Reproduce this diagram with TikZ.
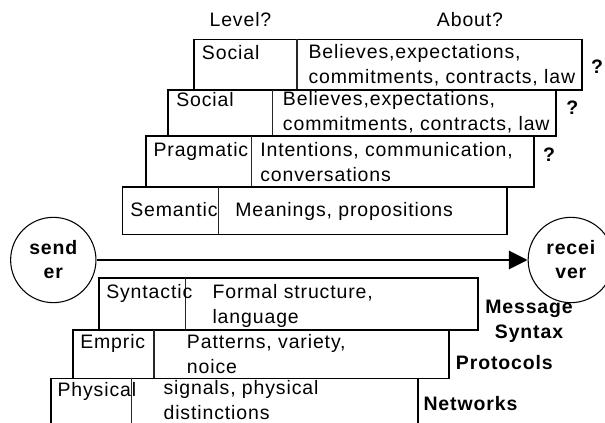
\documentclass[tikz,border=0pt]{standalone}
\usepackage{fontspec}
\setmainfont{Liberation Sans}[LetterSpace=4.5]
\usetikzlibrary{arrows.meta, fit}

\begin{document}
\begin{tikzpicture}[x=0.75pt, y=-0.75pt]
\tikzstyle{layer} = [draw, line width=1.2pt, inner sep=0pt]
\tikzstyle{divider} = [draw=black!85, line width=0.8pt]
\tikzstyle{txt} = [inner sep=0pt, anchor=base west, align=left, font=\fontsize{14.6}{18.4}\selectfont]
\tikzstyle{tag} = [txt, font=\fontsize{14.6}{18.4}\selectfont\bfseries]
\tikzstyle{party} = [circle, draw, line width=0.8pt, minimum size=64pt, inner sep=0pt, align=center, font=\fontsize{14.6}{18}\selectfont\bfseries]

\useasboundingbox (0,0) rectangle (605,423);
\clip (0,0) rectangle (605,423);

% Layers with their dividers
\foreach \name/\xa/\ya/\xb/\yb/\xd in {socA/194/39.5/581.7/90/297, socB/168/90/555.7/136/272.7, prag/146/136/534/187/251.7, sem/122.3/187/506.7/234.5/218.7, syn/98.7/278.3/478/330/185.7, emp/72.7/330/449/378.3/154, phys/50.7/378.3/417.7/440/131.7} {
    \node (\name) [layer, fit={(\xa,\ya) (\xb,\yb)}] {};
    \draw[divider] (\xd,\ya) -- (\xd,\yb);
}

\node (level) [txt] at (209.3,26.7) {Level?};
\node (about) [txt] at (436.7,26.7) {About?};

% two-line texts sit on the baseline of their last line
\node (socAlvl) [txt] at (201.7,59.3) {Social};
\node (socAtxt) [txt] at (308.3,83.3) {Believes,expectations,\\commitments, contracts, law};
\node (socBlvl) [txt] at (176,106.7) {Social};
\node (socBtxt) [txt] at (282.7,130.5) {Believes,expectations,\\commitments, contracts, law};
\node (praglvl) [txt] at (153.3,156.7) {Pragmatic};
\node (pragtxt) [txt] at (260,181.5) {Intentions, communication,\\conversations};
\node (semlvl) [txt] at (130,216.7) {Semantic};
\node (semtxt) [txt] at (235,216.7) {Meanings, propositions};
\node (synlvl) [txt] at (106,298) {Syntactic};
\node (syntxt) [txt] at (212.3,323) {Formal structure,\\language};
\node (emplvl) [txt] at (80,348) {Empric};
\node (emptxt) [txt] at (186.7,373) {Patterns, variety,\\noice};
\node (physlvl) [txt] at (57.3,396.3) {Physical};
\node (phystxt) [txt] at (163.3,419.5) {signals, physical\\distinctions};

\node (qA) [tag, anchor=base] at (597,73.3) {?};
\node (qB) [tag, anchor=base] at (572.3,115) {?};
\node (qC) [tag, anchor=base] at (549,161.7) {?};

\node (msg) [tag, anchor=base, align=center] at (529,338) {Message\\Syntax};
\node (proto) [tag] at (455.7,369.7) {Protocols};
\node (net) [tag] at (423.3,410) {Networks};

\node (sender) [party] at (53.3,260) {send\\er};
\node (receiver) [party] at (570.8,260) {recei\\ver};

\draw[line width=2.2pt, -{Triangle[length=14pt, width=13.5pt]}] (sender) -- (receiver);

\end{tikzpicture}
\end{document}
